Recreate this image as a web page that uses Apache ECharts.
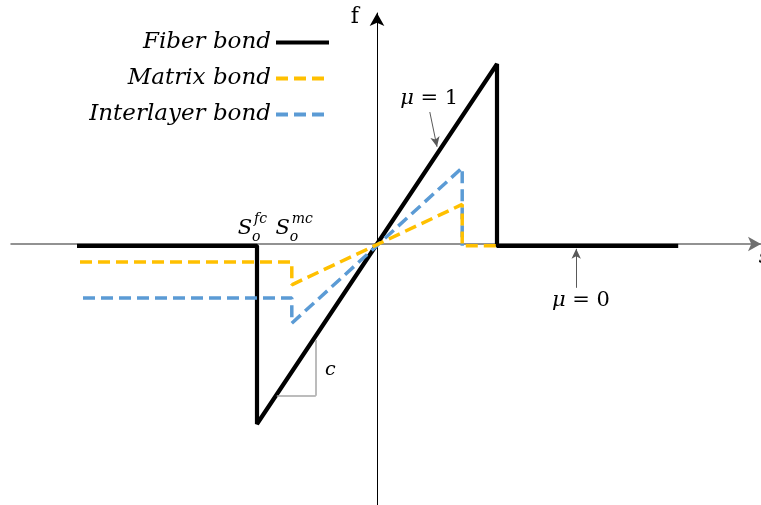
<!DOCTYPE html>
<html>
<head>
<meta charset="utf-8">
<script src="https://cdn.jsdelivr.net/npm/echarts@6/dist/echarts.min.js"></script>
<style>
  html, body { margin: 0; padding: 0; background: #fff; }
  #chart { width: 761px; height: 505px; }
</style>
</head>
<body>
<div id="chart"></div>
<script>
// Bond-slip laws: slip s (horizontal) against bond stress f (vertical)
const seriesNames = ['Fiber bond', 'Matrix bond', 'Interlayer bond'];

const fiberS  = [-5, -2, -2, 2, 2, 5.02];
const fiberF  = [-0.03, -0.03, -3, 3, -0.03, -0.03];

const matrixS = [-4.95, -1.42, -1.42, 1.42, 1.42, 2];
const matrixF = [-0.3, -0.3, -0.68, 0.66, -0.03, -0.03];

const interS  = [-4.9, -1.42, -1.42, 1.42, 1.42];
const interF  = [-0.9, -0.9, -1.32, 1.27, -0.03];

const pairs = (xs, ys) => xs.map((x, i) => [x, ys[i]]);

const serif = 'DejaVu Serif';
const chart = echarts.init(document.getElementById('chart'), null, { renderer: 'canvas' });

const option = {
  animation: false,
  backgroundColor: '#fff',
  grid: { left: 11, right: 0, top: 13, bottom: 0, containLabel: false },
  legend: {
    data: seriesNames,
    orient: 'vertical',
    align: 'right',
    right: 430,
    top: 31,
    padding: 0,
    itemWidth: 53,
    itemHeight: 14,
    itemGap: 13,
    selectedMode: false,
    lineStyle: { width: 4 },
    itemStyle: { opacity: 0 },
    textStyle: { fontFamily: serif, fontStyle: 'italic', fontSize: 23, color: '#000' }
  },
  xAxis: {
    type: 'value', min: -6.1, max: 6.4,
    axisLine: { onZero: true, symbol: ['none', 'arrow'], symbolSize: [11, 13],
                lineStyle: { color: '#6f6f6f', width: 1.5 } },
    axisTick: { show: false }, axisLabel: { show: false }, splitLine: { show: false }
  },
  yAxis: {
    type: 'value', min: -4.35, max: 3.85,
    axisLine: { onZero: true, symbol: ['none', 'arrow'], symbolSize: [11, 13],
                lineStyle: { color: '#000', width: 1 } },
    axisTick: { show: false }, axisLabel: { show: false }, splitLine: { show: false }
  },
  series: [
    {
      name: seriesNames[0], type: 'line', symbol: 'none', z: 2,
      data: pairs(fiberS, fiberF),
      lineStyle: { color: '#000', width: 4.2 },
      itemStyle: { color: '#000' },
      markLine: {
        silent: true, animation: false,
        label: { show: false },
        symbolSize: [7, 10],
        data: [
          [{ coord: [0.88, 2.2], symbol: 'none', lineStyle: { color: '#595959', width: 1, type: 'solid' } },
           { coord: [1.0, 1.62], symbol: 'arrow' }],
          [{ coord: [3.32, -0.73], symbol: 'none', lineStyle: { color: '#595959', width: 1, type: 'solid' } },
           { coord: [3.32, -0.08], symbol: 'arrow' }],
          [{ coord: [-1.02, -1.6], symbol: 'none', lineStyle: { color: '#a6a6a6', width: 1.5, type: 'solid' } },
           { coord: [-1.02, -2.53], symbol: 'none' }],
          [{ coord: [-1.67, -2.53], symbol: 'none', lineStyle: { color: '#a6a6a6', width: 1.5, type: 'solid' } },
           { coord: [-1.02, -2.53], symbol: 'none' }]
        ]
      }
    },
    {
      name: seriesNames[1], type: 'line', symbol: 'none', z: 4,
      data: pairs(matrixS, matrixF),
      lineStyle: { color: '#FFC000', width: 3.5, type: [12, 6] },
      itemStyle: { color: '#FFC000' }
    },
    {
      name: seriesNames[2], type: 'line', symbol: 'none', z: 3,
      data: pairs(interS, interF),
      lineStyle: { color: '#5B9BD5', width: 3.5, type: [12, 6] },
      itemStyle: { color: '#5B9BD5' }
    }
  ]
};
chart.setOption(option);

// Text annotations anchored in data space
const px = (x, y) => chart.convertToPixel({ gridIndex: 0 }, [x, y]);
const txt = (p, dx, dy, text, size, italic, align) => ({
  type: 'text', x: p[0] + dx, y: p[1] + dy, silent: true,
  style: { text, fill: '#000', fontFamily: serif, fontSize: size,
           fontStyle: italic ? 'italic' : 'normal',
           align: align || 'center', verticalAlign: 'middle' }
});
const muLabel = (p, val) => ({
  type: 'text', x: p[0], y: p[1], silent: true,
  style: {
    text: '{m|μ}{n| = ' + val + '}', align: 'center', verticalAlign: 'middle',
    rich: {
      m: { fontFamily: serif, fontStyle: 'italic', fontSize: 21, fill: '#000' },
      n: { fontFamily: serif, fontSize: 21, fill: '#000' }
    }
  }
});

const fAnchor = px(-0.37, 3.78);
const sAnchor = px(6.45, -0.23);
const mu1 = px(0.87, 2.42);
const mu0 = px(3.4, -0.95);
const cAnchor = px(-0.78, -2.1);
const sfc = px(-2.2, 0.25);
const smc = px(-1.57, 0.25);

chart.setOption({
  graphic: [
    txt(fAnchor, 0, 0, 'f', 22, false),
    txt(sAnchor, 0, 0, 's', 20, true),
    muLabel(mu1, '1'),
    muLabel(mu0, '0'),
    txt(cAnchor, 0, 0, 'c', 19, true),
    txt(sfc, 0, 0, 'S', 21, true),
    txt(sfc, 7, 8, 'o', 14, true, 'left'),
    txt(sfc, 9, -10, 'fc', 14, true, 'left'),
    txt(smc, 0, 0, 'S', 21, true),
    txt(smc, 7, 8, 'o', 14, true, 'left'),
    txt(smc, 9, -10, 'mc', 14, true, 'left')
  ]
});
</script>
</body>
</html>
